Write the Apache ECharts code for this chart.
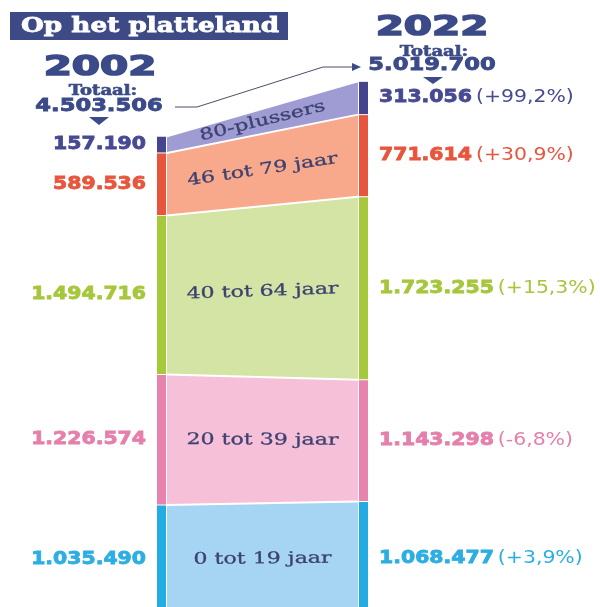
<!DOCTYPE html>
<html lang="nl">

<head>
    <meta charset="UTF-8">
    <script src="https://cdn.jsdelivr.net/npm/echarts@6.0.0/dist/echarts.min.js"></script>
    <title>Op het platteland</title>
</head>

<style>
    body {
        margin: 0;
        background: #fff;
    }
</style>

<body>
    <div id="chart" style="width: 600px;height:607px;"></div>

    <script>
        // bevolking platteland per leeftijdsgroep (van onder naar boven)
        const years = ['2002', '2022'];
        const groups = ['0 tot 19 jaar', '20 tot 39 jaar', '40 tot 64 jaar', '46 tot 79 jaar', '80-plussers'];
        const pop2002 = [1035490, 1226574, 1494716, 589536, 157190];
        const pop2022 = [1068477, 1143298, 1723255, 771614, 313056];
        const changes = ['+3,9%', '-6,8%', '+15,3%', '+30,9%', '+99,2%'];

        const fillColors = ['#a5d5f3', '#f7c0d9', '#d4e4a5', '#f8a98c', '#9e9cd2'];
        const stripeColors = ['#22ace2', '#e883ae', '#a6c93c', '#e8553d', '#45458f'];
        const textColors = ['#2caee2', '#e57fab', '#a6c63c', '#e8553d', '#474a93'];
        const navy = '#3b4a88';
        const labelColor = '#3d4270';

        function fmt(n) {
            return String(n).replace(/\B(?=(\d{3})+(?!\d))/g, '.');
        }

        function sum(arr) {
            return arr.reduce(function (a, b) { return a + b; }, 0);
        }

        function cumulative(arr) {
            let out = [];
            let acc = 0;
            for (let v of arr) {
                out.push([acc, acc + v]);
                acc += v;
            }
            return out;
        }

        let bounds2002 = cumulative(pop2002);
        let bounds2022 = cumulative(pop2022);

        let stripeData = [];
        for (let g = 0; g < groups.length; g++) {
            stripeData.push([0, bounds2002[g][0], bounds2002[g][1], g]);
            stripeData.push([1, bounds2022[g][0], bounds2022[g][1], g]);
        }
        let labelData = groups.map(function (name, g) {
            return [0, bounds2002[g][0], bounds2002[g][1], bounds2022[g][0], bounds2022[g][1]];
        });

        function renderStripe(params, api) {
            let xi = api.value(0);
            let g = api.value(3);
            let top = api.coord([xi, api.value(2)]);
            let bot = api.coord([xi, api.value(1)]);
            let midY = (top[1] + bot[1]) / 2;
            let rect = {
                type: 'rect',
                shape: { x: xi === 0 ? top[0] - 10 : top[0] + 1, y: top[1] + 0.5, width: 9, height: bot[1] - top[1] - 1 },
                style: { fill: stripeColors[g] }
            };
            let label;
            if (xi === 0) {
                label = {
                    type: 'text', x: top[0] - 21, y: midY, scaleX: 1.2,
                    style: {
                        text: fmt(pop2002[g]), fill: textColors[g], font: 'bold 17px "DejaVu Sans"',
                        stroke: textColors[g], lineWidth: 0.8,
                        align: 'right', verticalAlign: 'middle', textAlign: 'right', textVerticalAlign: 'middle'
                    }
                };
            } else {
                label = {
                    type: 'text', x: top[0] + 21, y: midY, scaleX: 1.2,
                    style: {
                        text: '{b|' + fmt(pop2022[g]) + '} {r|(' + changes[g] + ')}',
                        rich: {
                            b: { font: 'bold 17px "DejaVu Sans"', fill: textColors[g], stroke: textColors[g], lineWidth: 0.8 },
                            r: { font: '17px "DejaVu Sans"', fill: textColors[g] }
                        },
                        align: 'left', verticalAlign: 'middle', textAlign: 'left', textVerticalAlign: 'middle'
                    }
                };
            }
            return { type: 'group', children: [rect, label] };
        }

        function renderGroupLabel(params, api) {
            let l0 = api.coord([0, api.value(1)]);
            let l1 = api.coord([0, api.value(2)]);
            let r0 = api.coord([1, api.value(3)]);
            let r1 = api.coord([1, api.value(4)]);
            let ly = (l0[1] + l1[1]) / 2;
            let ry = (r0[1] + r1[1]) / 2;
            let angle = Math.atan2(ly - ry, r0[0] - l0[0]);
            return {
                type: 'text',
                x: (l0[0] + r0[0]) / 2,
                y: (ly + ry) / 2,
                rotation: angle,
                scaleX: 1.38,
                style: {
                    text: groups[params.dataIndex], fill: labelColor, font: '16px "DejaVu Serif"',
                    stroke: labelColor, lineWidth: 0.3,
                    align: 'center', verticalAlign: 'middle', textAlign: 'center', textVerticalAlign: 'middle'
                }
            };
        }

        function headerText(text, x, y, font, sx, sw) {
            return {
                type: 'text', x: x, y: y, scaleX: sx,
                style: {
                    text: text, font: font, fill: navy, stroke: navy, lineWidth: sw,
                    textAlign: 'center', textVerticalAlign: 'middle', align: 'center', verticalAlign: 'middle'
                }
            };
        }

        let series = groups.map(function (name, g) {
            return {
                name: name,
                type: 'line',
                stack: 'bevolking',
                data: [pop2002[g], pop2022[g]],
                symbol: 'none',
                lineStyle: { color: '#fff', width: 2 },
                areaStyle: { color: fillColors[g], opacity: 1 },
                z: 1
            };
        });
        series.push({
            type: 'custom',
            data: stripeData,
            renderItem: renderStripe,
            clip: false,
            z: 3
        });
        series.push({
            type: 'custom',
            data: labelData,
            renderItem: renderGroupLabel,
            clip: false,
            z: 4
        });

        option = {
            backgroundColor: '#fff',
            animation: false,
            grid: { left: 167, right: 242, top: 0, bottom: -8, outerBoundsMode: 'none' },
            xAxis: { type: 'category', data: years, boundaryGap: false, show: false },
            yAxis: { type: 'value', min: 0, max: 5785000, show: false, splitLine: { show: false } },
            graphic: {
                elements: [
                    { type: 'rect', shape: { x: 10, y: 12, width: 278, height: 28 }, style: { fill: '#3d4a85' } },
                    {
                        type: 'text', x: 21, y: 27, scaleX: 1.25,
                        style: {
                            text: 'Op het platteland', font: 'bold 21px "DejaVu Serif"', fill: '#fff',
                            stroke: '#fff', lineWidth: 0.8,
                            textAlign: 'left', textVerticalAlign: 'middle', align: 'left', verticalAlign: 'middle'
                        }
                    },
                    headerText(years[0], 100, 68, 'bold 27px "DejaVu Sans"', 1.5, 1.5),
                    headerText('Totaal:', 103, 91, 'bold 15px "DejaVu Serif"', 1.2, 0.6),
                    headerText(fmt(sum(pop2002)), 99, 107, 'bold 17px "DejaVu Sans"', 1.33, 0.8),
                    { type: 'polygon', shape: { points: [[89, 117], [109, 117], [99, 125]] }, style: { fill: navy } },
                    headerText(years[1], 432, 28, 'bold 27px "DejaVu Sans"', 1.5, 1.5),
                    headerText('Totaal:', 434, 52, 'bold 15px "DejaVu Serif"', 1.2, 0.6),
                    headerText(fmt(sum(pop2022)), 432, 66, 'bold 17px "DejaVu Sans"', 1.33, 0.8),
                    { type: 'polygon', shape: { points: [[423, 77], [443, 77], [433, 84]] }, style: { fill: navy } },
                    {
                        type: 'polyline',
                        shape: { points: [[175, 107], [197, 107], [323, 67], [353, 67]] },
                        style: { stroke: '#4a4f6a', lineWidth: 1, fill: null }
                    },
                    { type: 'polygon', shape: { points: [[352, 63], [361, 67], [352, 71]] }, style: { fill: '#3b4a88' } }
                ]
            },
            series: series
        };
        var myChart = echarts.init(document.getElementById('chart'));
        myChart.setOption(option);
    </script>
</body>

</html>
